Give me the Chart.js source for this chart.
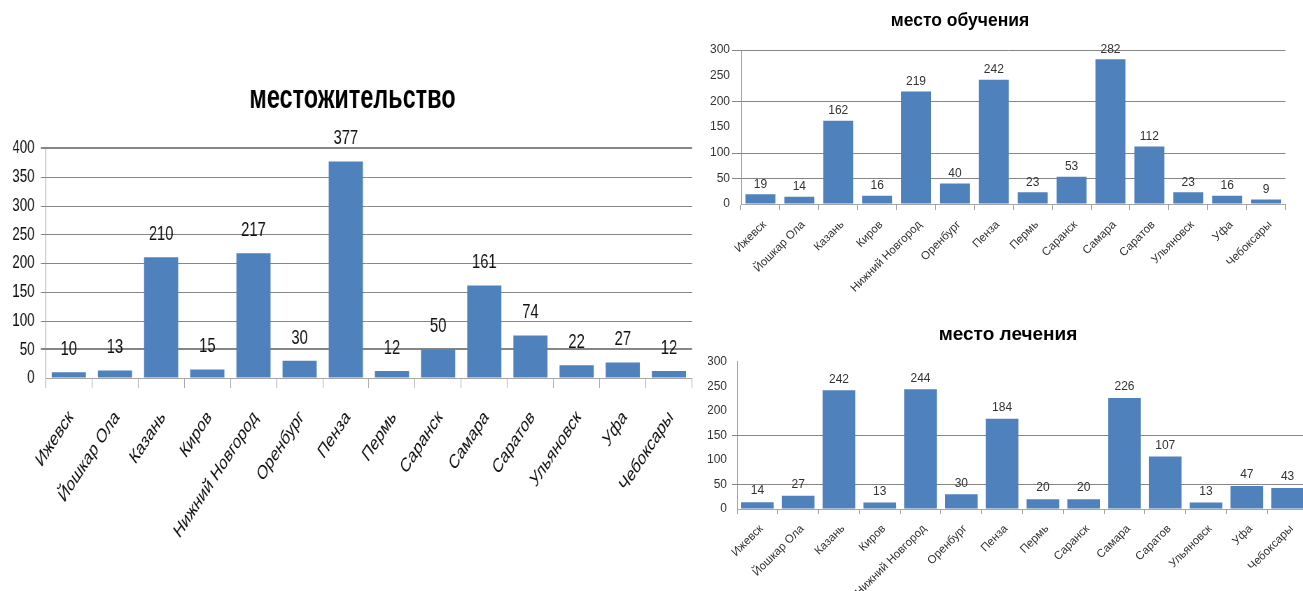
<!DOCTYPE html>
<html><head><meta charset="utf-8">
<script src="https://cdn.jsdelivr.net/npm/chart.js@4.4.1/dist/chart.umd.min.js"></script>
<style>
html,body{margin:0;padding:0;background:#fff;overflow:hidden;width:1303px;height:591px;position:relative;}
canvas{position:absolute;}
#c1{left:0;top:60px;transform:scaleX(0.7);transform-origin:0 0;}
#c2{left:617px;top:0;}
#c3{left:696px;top:310px;}
</style></head><body>
<canvas id="c1" width="1000" height="500"></canvas>
<canvas id="c2" width="686" height="300"></canvas>
<canvas id="c3" width="624" height="290"></canvas>
<script>
const categories = ['Ижевск','Йошкар Ола','Казань','Киров','Нижний Новгород','Оренбург','Пенза','Пермь','Саранск','Самара','Саратов','Ульяновск','Уфа','Чебоксары'];
const residence = [10,13,210,15,217,30,377,12,50,161,74,22,27,12];
const study = [19,14,162,16,219,40,242,23,53,282,112,23,16,9];
const treatment = [14,27,242,13,244,30,184,20,20,226,107,13,47,43];
const titles = ['местожительство','место обучения','место лечения'];
const yMax = [400,300,300];
const yStep = 50;

// value labels above bars, positioned from the bar elements
const valueLabels = {
  id:'valueLabels',
  afterDatasetsDraw(chart, args, o){
    const ctx = chart.ctx, meta = chart.getDatasetMeta(0), data = chart.data.datasets[0].data;
    ctx.save();
    ctx.font = o.font; ctx.fillStyle = o.color; ctx.textAlign = 'center'; ctx.textBaseline = 'middle';
    meta.data.forEach((bar,i)=>{ ctx.fillText(String(data[i]), bar.x, bar.y - o.offset); });
    ctx.restore();
  }
};
// selected horizontal grid lines, placed through the y scale
const selGrid = {
  id:'selGrid',
  beforeDatasetsDraw(chart, args, o){
    const ctx = chart.ctx, y = chart.scales.y, a = chart.chartArea;
    ctx.save();
    ctx.strokeStyle = o.color;
    o.values.forEach(v=>{
      const w = o.thick.includes(v) ? 2 : 1;
      const p = Math.round(y.getPixelForValue(v)) + (w === 1 ? 0.5 : 0);
      ctx.lineWidth = w;
      ctx.beginPath(); ctx.moveTo(a.left - o.tick, p); ctx.lineTo(a.right, p); ctx.stroke();
    });
    ctx.restore();
  }
};

function makeChart(id, values, title, max, s){
  return new Chart(document.getElementById(id), {
    type:'bar',
    data:{labels:categories, datasets:[{data:values, backgroundColor:'#4F81BD', borderWidth:0,
      barPercentage:s.bar, categoryPercentage:1}]},
    plugins:[selGrid, valueLabels],
    options:{
      responsive:false, animation:false, devicePixelRatio:1,
      layout:{padding:{left:s.padLeft,right:s.padRight,top:0,bottom:0}},
      plugins:{
        legend:{display:false}, tooltip:{enabled:false},
        title:{display:true, text:title, color:'#000',
          font:{family:s.family, size:s.titleSize, weight:'bold', lineHeight:1.2},
          padding:{top:s.tp1, bottom:s.tp2}},
        valueLabels:{font:s.valFont, color:s.valColor, offset:s.valOffset},
        selGrid:{values:s.grid, thick:s.thick, color:'#868686', tick:s.yTick}
      },
      scales:{
        x:{
          afterFit(sc){ sc.height = s.xH; },
          grid:{display:true, drawOnChartArea:false, drawTicks:true, tickLength:s.xTick, color:'#a6a6a6', offset:true},
          border:{display:true, color:'#a6a6a6'},
          ticks:{autoSkip:false, minRotation:s.rot, maxRotation:s.rot, padding:s.xPad, labelOffset:s.xOff,
            color:s.labColor, font:{family:s.family, size:s.xFont}}
        },
        y:{
          min:0, max:max,
          afterFit(sc){ sc.width = s.yW; },
          grid:{display:true, drawOnChartArea:false, drawTicks:false, color:'rgba(0,0,0,0)'},
          border:{display:true, color:'#a6a6a6'},
          ticks:{stepSize:yStep, padding:s.yPad + s.yTick, color:s.labColor, font:{family:s.family, size:s.yFont}}
        }
      }
    }
  });
}

makeChart('c1', residence, titles[0], yMax[0], {
  family:'"Liberation Sans", Arial, sans-serif', bar:0.74, padLeft:18.6, padRight:11.4, rot:47,
  titleSize:33.5, tp1:19, tp2:29, xH:182, xTick:10, xPad:18, xOff:3, xFont:20,
  yW:46.7, yTick:7, yPad:9, yFont:19, labColor:'#111',
  valFont:'21px "Liberation Sans", Arial, sans-serif', valColor:'#111', valOffset:23,
  grid:[50,100,150,200,250,300,350,400], thick:[50,400]
});
makeChart('c2', study, titles[1], yMax[1], {
  family:'"Liberation Sans", Arial, sans-serif', bar:0.77, padLeft:17.5, padRight:17.5, rot:45,
  titleSize:17.5, tp1:11, tp2:18, xH:96, xTick:6, xPad:8, xOff:4, xFont:11.5,
  yW:106.5, yTick:9, yPad:2, yFont:12, labColor:'#333',
  valFont:'12px "Liberation Sans", Arial, sans-serif', valColor:'#333', valOffset:10,
  grid:[50,100,200,300], thick:[]
});
makeChart('c3', treatment, titles[2], yMax[2], {
  family:'"Liberation Sans", Arial, sans-serif', bar:0.8, padLeft:12, padRight:12, rot:45,
  titleSize:19, tp1:13, tp2:16, xH:91, xTick:5, xPad:8, xOff:4, xFont:11.5,
  yW:29, yTick:5, yPad:5, yFont:12, labColor:'#333',
  valFont:'12px "Liberation Sans", Arial, sans-serif', valColor:'#333', valOffset:11,
  grid:[50,150], thick:[]
});
</script>
</body></html>
